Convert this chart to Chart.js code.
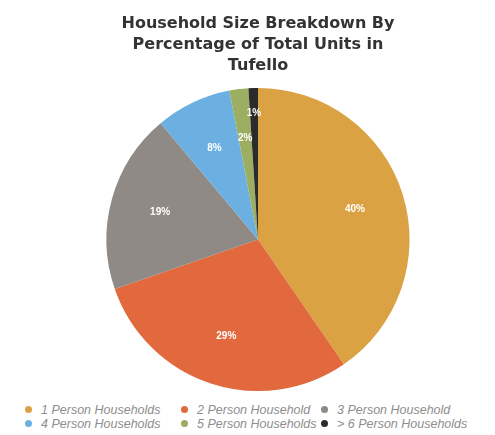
<!DOCTYPE html>
<html>
<head>
<meta charset="utf-8">
<script src="https://cdn.jsdelivr.net/npm/chart.js@4"></script>
<style>
  html, body { margin: 0; padding: 0; background: #fff; }
  #wrap { width: 495px; height: 400px; position: relative; }
  #legend {
    display: grid;
    grid-template-columns: 156px 140px 170px;
    padding-left: 25px;
    padding-top: 3px;
    row-gap: 1px;
    font: italic 12.5px 'Liberation Sans', Arial, sans-serif;
    color: #8e8e8e;
  }
  #legend div { display: flex; align-items: center; height: 13px; white-space: nowrap; }
  #legend span.dot { width: 7px; height: 7px; border-radius: 50%; margin-right: 9px; flex: none; }
</style>
</head>
<body>
<div id="wrap"><canvas id="pie"></canvas></div>
<div id="legend"></div>
<script>
const titleLines = ["Household Size Breakdown By", "Percentage of Total Units in", "Tufello"];
const categories = ["1 Person Households", "2 Person Household", "3 Person Household",
                    "4 Person Households", "5 Person Households", "> 6 Person Households"];
const shares = [40, 29, 19, 8, 2, 1];
const sliceColors = ["#dba244", "#e1693d", "#8f8a85", "#6cb0e2", "#9cae62", "#2b2b2b"];

// white percent labels inside the slices
const sliceLabels = {
    id: "sliceLabels",
    afterDatasetsDraw(chart) {
        const ctx = chart.ctx;
        const meta = chart.getDatasetMeta(0);
        ctx.save();
        ctx.fillStyle = "#ffffff";
        ctx.font = "bold 10px 'Liberation Sans', Arial, sans-serif";
        ctx.textAlign = "center";
        ctx.textBaseline = "middle";
        meta.data.forEach((arc, i) => {
            const p = arc.getProps(["x", "y", "startAngle", "endAngle", "outerRadius"], true);
            const mid = (p.startAngle + p.endAngle) / 2;
            const f = shares[i] < 2 ? 0.83 : 0.67;
            const r = p.outerRadius * f;
            ctx.fillText(shares[i] + "%", p.x + Math.cos(mid) * r, p.y + Math.sin(mid) * r);
        });
        ctx.restore();
    }
};

new Chart(document.getElementById("pie"), {
    type: "pie",
    data: {
        labels: categories,
        datasets: [{
            data: shares,
            backgroundColor: sliceColors,
            borderWidth: 0
        }]
    },
    plugins: [sliceLabels],
    options: {
        responsive: true,
        maintainAspectRatio: false,
        animation: false,
        layout: { padding: { left: 21, right: 0, top: 0, bottom: 9 } },
        plugins: {
            tooltip: { enabled: false },
            legend: { display: false },
            title: {
                display: true,
                text: titleLines,
                color: "#333333",
                font: { family: "'DejaVu Sans', sans-serif", size: 16, weight: "bold", lineHeight: 1.31 },
                padding: { top: 13, bottom: 12 }
            }
        }
    }
});

// legend in three columns, as in the original
const legend = document.getElementById("legend");
categories.forEach((name, i) => {
    const item = document.createElement("div");
    const dot = document.createElement("span");
    dot.className = "dot";
    dot.style.background = sliceColors[i];
    item.appendChild(dot);
    item.appendChild(document.createTextNode(name));
    legend.appendChild(item);
});
</script>
</body>
</html>
